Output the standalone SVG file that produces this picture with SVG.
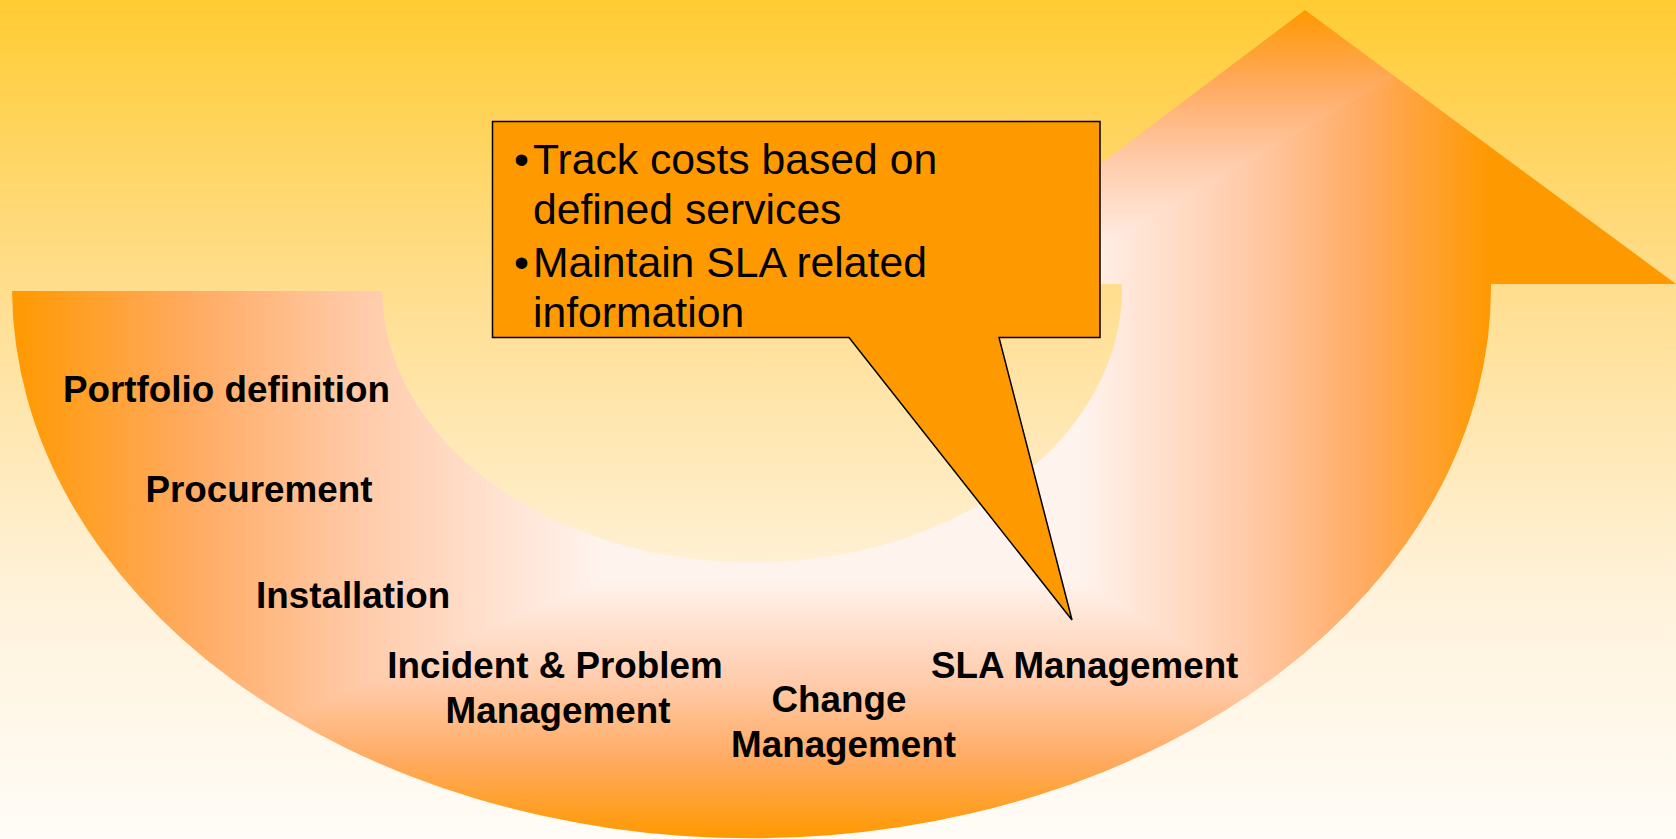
<svg xmlns="http://www.w3.org/2000/svg" width="1676" height="839" viewBox="0 0 1676 839">
  <defs>
    <linearGradient id="bg" x1="0" y1="0" x2="0" y2="1">
      <stop offset="0" stop-color="#FFCC33"/>
      <stop offset="0.35" stop-color="#FFDE90"/>
      <stop offset="0.7" stop-color="#FFF2DA"/>
      <stop offset="1" stop-color="#FFFCF7"/>
    </linearGradient>
    <linearGradient id="gLeft" gradientUnits="userSpaceOnUse" x1="600" y1="0" x2="12" y2="0">
      <stop offset="0" stop-color="#FFF3EE"/>
      <stop offset="0.4" stop-color="#FFCBAA"/>
      <stop offset="0.7" stop-color="#FFAA60"/>
      <stop offset="1" stop-color="#FF9900"/>
    </linearGradient>
    <linearGradient id="gBottom" gradientUnits="userSpaceOnUse" x1="0" y1="580" x2="0" y2="839">
      <stop offset="0" stop-color="#FFF3EE"/>
      <stop offset="0.4" stop-color="#FFCBAA"/>
      <stop offset="0.7" stop-color="#FFAA60"/>
      <stop offset="1" stop-color="#FF9900"/>
    </linearGradient>
    <linearGradient id="gRight" gradientUnits="userSpaceOnUse" x1="1080" y1="0" x2="1491" y2="0">
      <stop offset="0" stop-color="#FFF3EE"/>
      <stop offset="0.4" stop-color="#FFCBAA"/>
      <stop offset="0.7" stop-color="#FFAA60"/>
      <stop offset="1" stop-color="#FF9900"/>
    </linearGradient>
    <linearGradient id="gTop" gradientUnits="userSpaceOnUse" x1="0" y1="260" x2="0" y2="10">
      <stop offset="0" stop-color="#FFF3EE"/>
      <stop offset="0.4" stop-color="#FFCBAA"/>
      <stop offset="0.7" stop-color="#FFAA60"/>
      <stop offset="1" stop-color="#FF9900"/>
    </linearGradient>
    <clipPath id="uClip">
      <path d="M12,291 L382,291 A370,274 0 0 0 1122,286 L1122,284 L941,284 L1305,10 L1676,284 L1491,284 A739.5,551 0 0 1 12,291 Z"/>
    </clipPath>
    <style>
      .label { font-family: "Liberation Sans", Arial, sans-serif; font-weight: bold; font-size: 36.8px; fill: #000; }
      .callout-text { font-family: "Liberation Sans", Arial, sans-serif; font-size: 42.7px; fill: #000; }
      .callout-shape { fill: #FF9900; stroke: #000; stroke-width: 1.5; stroke-linejoin: miter; }
      .band { shape-rendering: crispEdges; }
    </style>
  </defs>
  <rect x="0" y="0" width="1676" height="839" fill="url(#bg)"/>
  <g id="u-arrow" clip-path="url(#uClip)">
    <rect class="band" x="600" y="260" width="480" height="320" fill="#FFF3EE"/>
    <polygon class="band" points="-20,0 600,0 600,580 -13,850 -20,850" fill="url(#gLeft)"/>
    <polygon class="band" points="600,580 1080,580 1508,850 -13,850" fill="url(#gBottom)"/>
    <polygon class="band" points="1080,580 1080,260 1526,0 1700,0 1700,850 1508,850" fill="url(#gRight)"/>
    <polygon class="band" points="600,0 1526,0 1080,260 600,260" fill="url(#gTop)"/>
  </g>
  <g id="callout">
    <path class="callout-shape" d="M492.5,121.5 H1100 V337.5 H999 L1072,620 L849,337.5 H492.5 Z"/>
    <text class="callout-text">
      <tspan x="514" y="173.5">•</tspan><tspan x="533" y="173.5">Track costs based on</tspan>
      <tspan x="533" y="224">defined services</tspan>
      <tspan x="514" y="276.5">•</tspan><tspan x="533" y="276.5">Maintain SLA related</tspan>
      <tspan x="533" y="326.5">information</tspan>
    </text>
  </g>
  <g id="portfolio-definition"><text class="label" x="63" y="401.5">Portfolio definition</text></g>
  <g id="procurement"><text class="label" x="145.5" y="502">Procurement</text></g>
  <g id="installation"><text class="label" x="256" y="608">Installation</text></g>
  <g id="incident-problem-management"><text class="label" text-anchor="middle"><tspan x="555" y="678">Incident &amp; Problem</tspan><tspan x="558" y="723">Management</tspan></text></g>
  <g id="change-management"><text class="label" text-anchor="middle"><tspan x="839" y="711.5">Change</tspan><tspan x="843.5" y="756.5">Management</tspan></text></g>
  <g id="sla-management"><text class="label" x="931" y="678">SLA Management</text></g>
</svg>
